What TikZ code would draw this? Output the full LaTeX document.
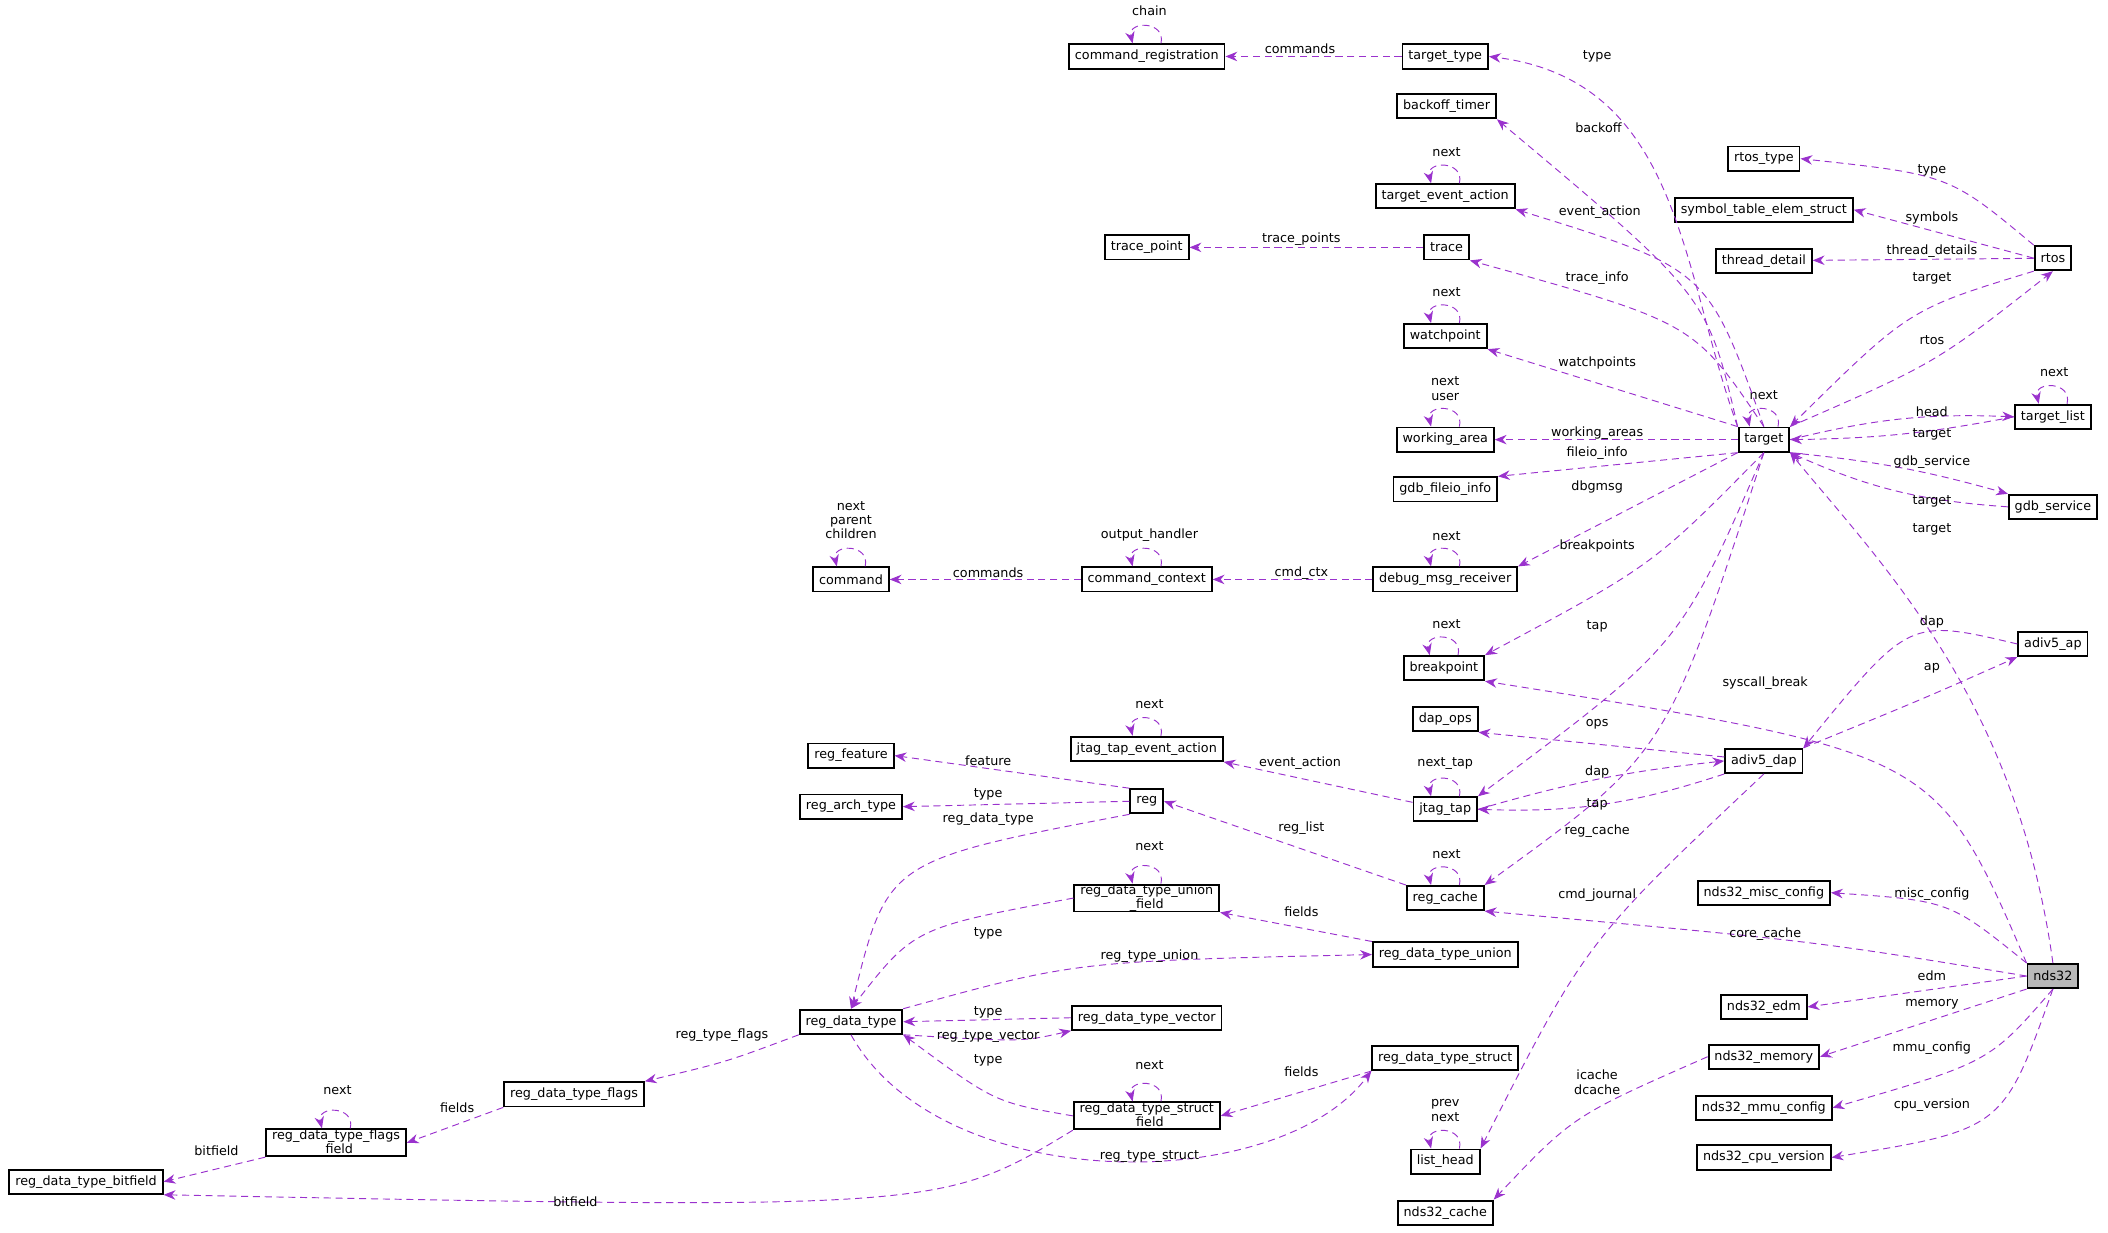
\documentclass[tikz,border=0pt]{standalone}
\usepackage{fontspec}
\setmainfont{DejaVu Sans}
\usetikzlibrary{arrows.meta}
\usetikzlibrary{positioning}
\definecolor{linkc}{HTML}{9A32CD}
\tikzset{
  cls/.style={draw, thick, fill=white, font=\fontsize{5.4}{6}\selectfont, inner xsep=2.5pt, inner ysep=0pt, minimum height=0.36cm, align=center},
  clsmain/.style={cls, fill=black!28},
  link/.style={linkc, dash pattern=on 3pt off 2pt, -{Stealth[length=5pt,width=4pt]}},
  lbl/.style={font=\fontsize{5.4}{6}\selectfont, align=center, inner sep=0pt}
}
\newcommand{\selfloop}[1]{\draw[link] ([xshift=6pt]#1.north) .. controls +(4,-17) and +(-4,-17) .. ([xshift=-6pt]#1.north);}
\begin{document}
\begin{tikzpicture}[x=0.02cm, y=-0.02cm]
\useasboundingbox (0,0) rectangle (1568,917);
% classes
\node[cls] (cmdreg) at (853,42) {command\_registration};
\node[cls] (ttype) at (1075,42) {target\_type};
\node[cls] (backoff) at (1076,79) {backoff\_timer};
\node[cls] (tevent) at (1075,146) {target\_event\_action};
\node[cls] (tpoint) at (853,184) {trace\_point};
\node[cls] (trace) at (1076,184) {trace};
\node[cls] (wpoint) at (1075,250) {watchpoint};
\node[cls] (warea) at (1075,327) {working\_area};
\node[cls] (fileio) at (1075,364) {gdb\_fileio\_info};
\node[cls] (command) at (633,431) {command};
\node[cls] (cmdctx) at (853,431) {command\_context};
\node[cls] (dbgmsg) at (1075,431) {debug\_msg\_receiver};
\node[cls] (bpoint) at (1074,497) {breakpoint};
\node[cls] (dapops) at (1075,535) {dap\_ops};
\node[cls] (jtevent) at (853,557) {jtag\_tap\_event\_action};
\node[cls] (rfeat) at (633,562) {reg\_feature};
\node[cls] (rarch) at (633,600) {reg\_arch\_type};
\node[cls] (reg) at (853,596) {reg};
\node[cls] (jtag) at (1075,602) {jtag\_tap};
\node[cls] (rcache) at (1075,668) {reg\_cache};
\node[cls] (unionf) at (853,668) {reg\_data\_type\_union\\\_field};
\node[cls] (union) at (1075,710) {reg\_data\_type\_union};
\node[cls] (rdtype) at (633,760) {reg\_data\_type};
\node[cls] (vector) at (853,757) {reg\_data\_type\_vector};
\node[cls] (struct) at (1075,787) {reg\_data\_type\_struct};
\node[cls] (flags) at (427,814) {reg\_data\_type\_flags};
\node[cls] (flagsf) at (250,850) {reg\_data\_type\_flags\\\_field};
\node[cls] (structf) at (853,830) {reg\_data\_type\_struct\\\_field};
\node[cls] (bitfield) at (64,879) {reg\_data\_type\_bitfield};
\node[cls] (lhead) at (1075,864) {list\_head};
\node[cls] (ncache) at (1075,902) {nds32\_cache};
\node[cls] (target) at (1312,327) {target};
\node[cls] (rtype) at (1312,118) {rtos\_type};
\node[cls] (symtab) at (1312,156) {symbol\_table\_elem\_struct};
\node[cls] (thread) at (1312,194) {thread\_detail};
\node[cls] (rtos) at (1527,192) {rtos};
\node[cls] (tlist) at (1527,310) {target\_list};
\node[cls] (gdbsrv) at (1527,377) {gdb\_service};
\node[cls] (ap) at (1527,479) {adiv5\_ap};
\node[cls] (dap) at (1312,566) {adiv5\_dap};
\node[cls] (misc) at (1312,664) {nds32\_misc\_config};
\node[clsmain] (nds) at (1527,726) {nds32};
\node[cls] (edm) at (1312,749) {nds32\_edm};
\node[cls] (mem) at (1312,786) {nds32\_memory};
\node[cls] (mmu) at (1312,824) {nds32\_mmu\_config};
\node[cls] (cpu) at (1312,861) {nds32\_cpu\_version};
% self references
\selfloop{cmdreg} \node[lbl] at (855,8) {chain};
\selfloop{tevent} \node[lbl] at (1076,113) {next};
\selfloop{wpoint} \node[lbl] at (1076,217) {next};
\selfloop{warea} \node[lbl] at (1075,289) {next\\user};
\selfloop{command} \node[lbl] at (633,387) {next\\parent\\children};
\selfloop{cmdctx} \node[lbl] at (855,398) {output\_handler};
\selfloop{dbgmsg} \node[lbl] at (1076,399) {next};
\selfloop{bpoint} \node[lbl] at (1076,464) {next};
\selfloop{jtevent} \node[lbl] at (855,524) {next};
\selfloop{jtag} \node[lbl] at (1075,568) {next\_tap};
\selfloop{rcache} \node[lbl] at (1076,635) {next};
\selfloop{unionf} \node[lbl] at (855,629) {next};
\selfloop{structf} \node[lbl] at (855,792) {next};
\selfloop{flagsf} \node[lbl] at (251,811) {next};
\selfloop{lhead} \node[lbl] at (1075,826) {prev\\next};
\selfloop{target} \node[lbl] at (1312,294) {next};
\selfloop{tlist} \node[lbl] at (1528,277) {next};
% members of target
\draw[link] (ttype) -- (cmdreg); \node[lbl] at (967,36) {commands};
\draw[link] (target.north west) .. controls (1250,200) and (1250,60) .. (ttype.east); \node[lbl] at (1188,42) {type};
\draw[link] (target.north west) .. controls (1270,220) .. (backoff.south east); \node[lbl] at (1189,95) {backoff};
\draw[link] (target.north) .. controls (1270,200) .. (tevent.south east); \node[lbl] at (1190,158) {event\_action};
\draw[link] (trace) -- (tpoint); \node[lbl] at (968,178) {trace\_points};
\draw[link] (target.north) .. controls (1260,240) .. (trace.south east); \node[lbl] at (1188,207) {trace\_info};
\draw[link] (target.north west) -- (wpoint.south east); \node[lbl] at (1188,270) {watchpoints};
\draw[link] (target) -- (warea); \node[lbl] at (1188,322) {working\_areas};
\draw[link] (target.south west) -- (fileio.north east); \node[lbl] at (1188,337) {fileio\_info};
\draw[link] (cmdctx) -- (command); \node[lbl] at (735,426) {commands};
\draw[link] (dbgmsg) -- (cmdctx); \node[lbl] at (968,426) {cmd\_ctx};
\draw[link] (target.south west) -- (dbgmsg.north east); \node[lbl] at (1188,362) {dbgmsg};
\draw[link] (target.south) .. controls (1230,420) .. (bpoint.north east); \node[lbl] at (1188,406) {breakpoints};
\draw[link] (target.south) .. controls (1250,480) .. (jtag.north east); \node[lbl] at (1188,466) {tap};
\draw[link] (target.south) .. controls (1240,560) .. (rcache.north east); \node[lbl] at (1188,618) {reg\_cache};
% rtos and friends
\draw[link] (rtos.north west) .. controls (1450,130) .. (rtype.east); \node[lbl] at (1437,127) {type};
\draw[link] (rtos.west) -- (symtab.east); \node[lbl] at (1437,162) {symbols};
\draw[link] (rtos) -- (thread); \node[lbl] at (1437,187) {thread\_details};
\draw[link] (rtos.south west) .. controls (1420,230) .. (target.north east); \node[lbl] at (1437,207) {target};
\draw[link] (target.north east) .. controls (1440,270) .. (rtos.south); \node[lbl] at (1437,253) {rtos};
\draw[link] (target.east) to[bend left=8] (tlist.west); \node[lbl] at (1437,306) {head};
\draw[link] (tlist.west) to[bend left=5] (target.east); \node[lbl] at (1437,323) {target};
\draw[link] (target.south east) to[bend left=5] (gdbsrv.north west); \node[lbl] at (1437,344) {gdb\_service};
\draw[link] (gdbsrv.west) to[bend left=10] (target.south east); \node[lbl] at (1437,373) {target};
\draw[link] (nds.north) .. controls (1500,520) and (1400,420) .. (target.south east); \node[lbl] at (1437,394) {target};
% debug interface
\draw[link] (ap.west) .. controls (1420,460) .. (dap.north east); \node[lbl] at (1437,463) {dap};
\draw[link] (dap.north east) .. controls (1430,520) .. (ap.south west); \node[lbl] at (1437,497) {ap};
\draw[link] (nds.north west) .. controls (1440,560) .. (bpoint.south east); \node[lbl] at (1313,508) {syscall\_break};
\draw[link] (dap) -- (dapops.south east); \node[lbl] at (1188,539) {ops};
\draw[link] (jtag.east) to[bend left=5] (dap.west); \node[lbl] at (1188,574) {dap};
\draw[link] (dap.south west) to[bend left=10] (jtag.east); \node[lbl] at (1188,598) {tap};
\draw[link] (jtag) -- (jtevent.south east); \node[lbl] at (967,568) {event\_action};
\draw[link] (dap.south) .. controls (1180,700) .. (lhead.north east); \node[lbl] at (1188,666) {cmd\_journal};
% registers
\draw[link] (rcache.north west) -- (reg.east); \node[lbl] at (968,616) {reg\_list};
\draw[link] (nds.west) .. controls (1350,700) .. (rcache.south east); \node[lbl] at (1313,695) {core\_cache};
\draw[link] (reg.north west) -- (rfeat.east); \node[lbl] at (735,566) {feature};
\draw[link] (reg.west) -- (rarch.east); \node[lbl] at (735,591) {type};
\draw[link] (reg.south west) .. controls (660,640) .. (rdtype.north); \node[lbl] at (735,609) {reg\_data\_type};
\draw[link] (unionf.west) .. controls (680,690) .. (rdtype.north); \node[lbl] at (735,694) {type};
\draw[link] (union.north west) -- (unionf.south east); \node[lbl] at (968,678) {fields};
\draw[link] (rdtype.north east) .. controls (800,715) .. (union.west); \node[lbl] at (855,711) {reg\_type\_union};
\draw[link] (vector.west) -- (rdtype.east); \node[lbl] at (735,753) {type};
\draw[link] (rdtype.south east) .. controls (760,775) .. (vector.south west); \node[lbl] at (735,771) {reg\_type\_vector};
\draw[link] (structf.west) .. controls (740,820) .. (rdtype.south east); \node[lbl] at (735,789) {type};
\draw[link] (struct.south west) -- (structf.east); \node[lbl] at (968,797) {fields};
\draw[link] (rdtype.south) .. controls (700,890) and (950,890) .. (struct.south west); \node[lbl] at (855,860) {reg\_type\_struct};
\draw[link] (rdtype.south west) .. controls (540,790) .. (flags.north east); \node[lbl] at (537,770) {reg\_type\_flags};
\draw[link] (flags.south west) -- (flagsf.east); \node[lbl] at (340,824) {fields};
\draw[link] (flagsf.south west) -- (bitfield.east); \node[lbl] at (161,856) {bitfield};
\draw[link] (structf.south west) .. controls (700,900) .. (bitfield.south east); \node[lbl] at (428,894) {bitfield};
% nds32 members
\draw[link] (nds.north west) .. controls (1450,670) .. (misc.east); \node[lbl] at (1437,665) {misc\_config};
\draw[link] (nds.west) -- (edm.east); \node[lbl] at (1437,726) {edm};
\draw[link] (nds.south west) -- (mem.east); \node[lbl] at (1437,747) {memory};
\draw[link] (nds.south) .. controls (1480,790) .. (mmu.east); \node[lbl] at (1437,780) {mmu\_config};
\draw[link] (nds.south) .. controls (1490,840) .. (cpu.east); \node[lbl] at (1437,822) {cpu\_version};
\draw[link] (mem.west) .. controls (1170,830) .. (ncache.north east); \node[lbl] at (1188,805) {icache\\dcache};
\end{tikzpicture}
\end{document}
